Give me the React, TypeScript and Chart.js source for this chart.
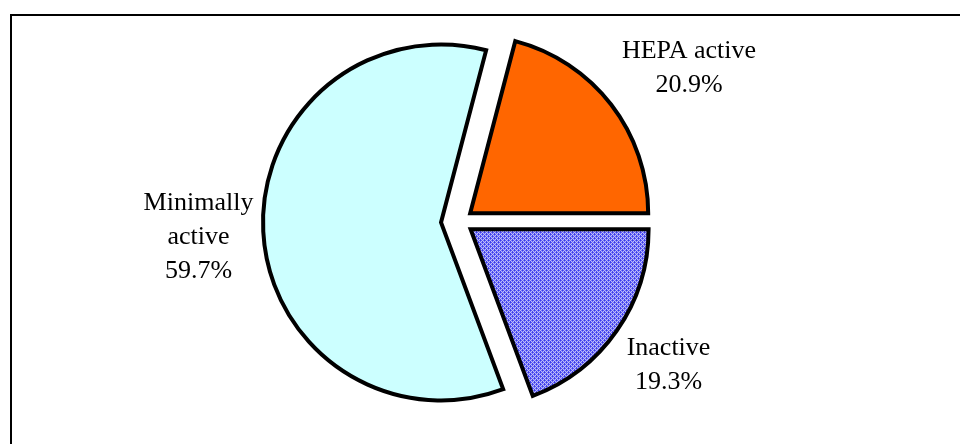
import React, { useEffect, useRef } from 'react';
import { Chart, registerables } from 'chart.js';

Chart.register(...registerables);

// ---- data ----
const categories = ['HEPA active', 'Inactive', 'Minimally active'];
const labelLines = [['HEPA active'], ['Inactive'], ['Minimally', 'active']];
const values = [20.9, 19.3, 59.7];

// ---- layout / style (not data) ----
const explodeDist = [13.5, 13.5, 18.5];
const labelOffsets = [
  [229.5, -163.5],
  [209, 133.5],
  [-261, -11.5],
];
const lineStep = 34;

function makePattern(): CanvasPattern | string {
  const c = document.createElement('canvas');
  c.width = 4;
  c.height = 4;
  const g = c.getContext('2d');
  if (!g) return '#8080f0';
  g.fillStyle = '#ffffff';
  g.fillRect(0, 0, 4, 4);
  g.fillStyle = '#3333ee';
  for (let y = 0; y < 4; y++) {
    for (let x = 0; x < 4; x++) {
      if ((x + y) % 2 === 0 || (x + y) % 4 === 1 && y % 2 === 0) g.fillRect(x, y, 1, 1);
    }
  }
  const p = g.createPattern(c, 'repeat');
  return p || '#8080f0';
}

const framePlugin = {
  id: 'frame',
  beforeDraw(chart: any) {
    const ctx = chart.ctx;
    ctx.save();
    ctx.fillStyle = '#ffffff';
    ctx.fillRect(0, 0, chart.width, chart.height);
    ctx.strokeStyle = '#000000';
    ctx.lineWidth = 2;
    ctx.strokeRect(11, 15, 1000, 500);
    ctx.restore();
  },
};

const explodePlugin = {
  id: 'explode',
  beforeDatasetDraw(chart: any, args: any) {
    const ctx = chart.ctx;
    const meta = args.meta;
    meta.data.forEach((arc: any, i: number) => {
      const mid = (arc.startAngle + arc.endAngle) / 2;
      const d = explodeDist[i] || 0;
      ctx.save();
      ctx.translate(Math.cos(mid) * d, Math.sin(mid) * d);
      arc.draw(ctx);
      ctx.restore();
    });
    return false;
  },
};

const labelPlugin = {
  id: 'sliceLabels',
  afterDatasetsDraw(chart: any) {
    const ctx = chart.ctx;
    const meta = chart.getDatasetMeta(0);
    ctx.save();
    ctx.fillStyle = '#000000';
    ctx.font = '26px "Liberation Serif", "Times New Roman", serif';
    ctx.textAlign = 'center';
    ctx.textBaseline = 'alphabetic';
    meta.data.forEach((arc: any, i: number) => {
      const x = arc.x + labelOffsets[i][0];
      const y = arc.y + labelOffsets[i][1];
      const lines = [...labelLines[i], values[i].toFixed(1) + '%'];
      lines.forEach((t, k) => ctx.fillText(t, x, y + k * lineStep));
    });
    ctx.restore();
  },
};

export default function App() {
  const ref = useRef<HTMLCanvasElement | null>(null);

  useEffect(() => {
    const canvas = ref.current;
    if (!canvas) return;
    const total = values.reduce((a, b) => a + b, 0);
    // first slice (HEPA) ends at 3 o'clock
    const rotation = 90 - (values[0] / total) * 360;
    const chart = new Chart(canvas, {
      type: 'pie',
      data: {
        labels: categories,
        datasets: [
          {
            data: values,
            backgroundColor: ['#FF6600', makePattern() as any, '#CCFFFF'],
            borderColor: '#000000',
            borderWidth: 4,
            borderJoinStyle: 'miter',
          } as any,
        ],
      },
      options: {
        responsive: false,
        animation: false,
        rotation,
        radius: 178,
        layout: { padding: { left: 0, right: 41, top: 0, bottom: 1 } },
        plugins: {
          legend: { display: false },
          tooltip: { enabled: false },
          title: { display: false },
        },
        events: [],
      } as any,
      plugins: [framePlugin, explodePlugin, labelPlugin],
    });
    return () => chart.destroy();
  }, []);

  return (
    <div
      style={{
        position: 'fixed',
        left: 0,
        top: 0,
        width: 960,
        height: 444,
        background: '#ffffff',
      }}
    >
      <canvas ref={ref} width={960} height={444} style={{ display: 'block', width: 960, height: 444 }} />
    </div>
  );
}
